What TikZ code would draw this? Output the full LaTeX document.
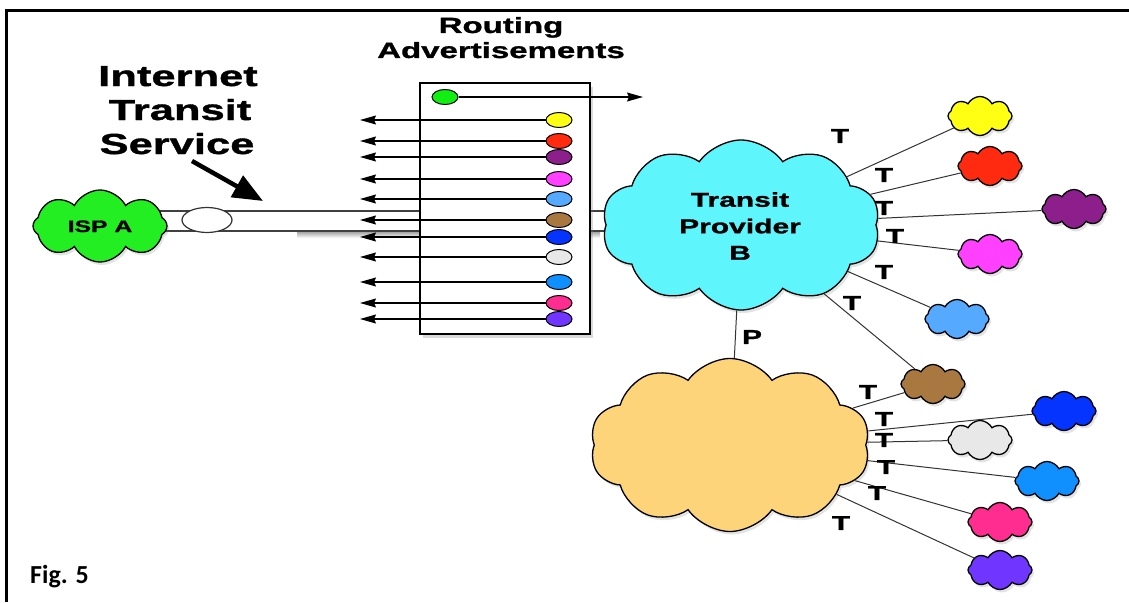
\documentclass[tikz,border=0pt]{standalone}
\usepackage{fontspec}
\setmainfont{Liberation Sans}
\newfontfamily\wf{Liberation Sans}[FakeStretch=1.5,FakeBold=1.2]
\newfontfamily\figf{Carlito}
\usetikzlibrary{shapes.symbols,shapes.geometric,arrows.meta,shadows}
\definecolor{ispgreen}{HTML}{22EE22}
\definecolor{dotgreen}{HTML}{11EE11}
\definecolor{cyanc}{HTML}{5EF5FD}
\definecolor{beigec}{HTML}{FDD479}
\definecolor{yellowc}{HTML}{FFFF14}
\definecolor{redc}{HTML}{FF2A10}
\definecolor{purplec}{HTML}{8C1F8C}
\definecolor{magentac}{HTML}{FF40FF}
\definecolor{lbluec}{HTML}{55AAFF}
\definecolor{brownc}{HTML}{A87840}
\definecolor{bluec}{HTML}{0533FF}
\definecolor{grayc}{HTML}{E8E8E8}
\definecolor{azurec}{HTML}{1090FF}
\definecolor{pinkc}{HTML}{FF2D90}
\definecolor{violetc}{HTML}{7036FF}
\begin{document}
\begin{tikzpicture}[x=1pt,y=-1pt,
  cl/.style={cloud, cloud puffs=8, cloud puff arc=125, cloud ignores aspect, draw=black, line width=1.3pt, inner sep=0pt, minimum width=64pt, minimum height=39pt, drop shadow={opacity=0.22, shadow xshift=2pt, shadow yshift=-3pt}},
  bigcl/.style={cl, cloud puffs=10, cloud puff arc=110},
  dot/.style={ellipse, draw=black, line width=1pt, inner sep=0pt, minimum width=26pt, minimum height=15pt},
  adv/.style={line width=1.1pt, -{Stealth[length=16pt,width=9pt,inset=2pt]}},
  conn/.style={line width=1pt, draw=black!80},
  tl/.style={font=\wf\bfseries\fontsize{20}{20}\selectfont, inner sep=0pt},
  title/.style={font=\wf\bfseries\fontsize{29}{29}\selectfont, inner sep=0pt, anchor=base},
  rtitle/.style={font=\wf\bfseries\fontsize{22}{22}\selectfont, inner sep=0pt, anchor=base},
  ctext/.style={font=\wf\bfseries\fontsize{20}{26.5}\selectfont, inner sep=0pt, align=center}]
\useasboundingbox (0,0) rectangle (1129,602);
% frame
\draw[line width=3pt] (6.5,602) -- (6.5,10.5) -- (1129,10.5);
% tube
\shade[top color=black!40, bottom color=white] (297,231) rectangle (600,238);
\draw[fill=white, draw=black!75, line width=1.2pt] (150,211) rectangle (615,231);
\node[ellipse, draw=black!80, fill=white, line width=1.2pt, minimum width=50pt, minimum height=25pt, inner sep=0pt] (hop) at (207,220) {};
% routing box
\node[draw=black, fill=white, line width=1.2pt, minimum width=170pt, minimum height=251pt, inner sep=0pt, drop shadow={opacity=0.3, shadow xshift=3pt, shadow yshift=-4pt}] (box) at (505,208.5) {};
% titles
\node[title] (t1) at (178,86) {Internet};
\node[title] (t2) at (180,120) {Transit};
\node[title] (t3) at (177,154) {Service};
\node[rtitle] (r1) at (501,33) {Routing};
\node[rtitle] (r2) at (501,58) {Advertisements};
\coordinate (bigtail) at (192,161);
\coordinate (bighead) at (263,201);
\draw[line width=4.5pt, -{Triangle[length=30pt,width=24pt]}] (bigtail) -- (bighead);
% advertisement dots and arrows
\node[dot, fill=dotgreen] (dg) at (445,97) {};
\coordinate (dgend) at (643,97);
\draw[adv] (dg) -- (dgend);
\foreach \n/\c/\y in {d1/yellowc/120, d2/redc/141, d3/purplec/157, d4/magentac/179, d5/lbluec/199, d6/brownc/220, d7/bluec/237, d8/grayc/257, d9/azurec/282, d10/pinkc/303, d11/violetc/319}{
  \node[dot, fill=\c] (\n) at (559,\y) {};
  \coordinate (\n e) at (360,\y);
  \draw[adv] (\n) -- (\n e);
}
% clouds
\node[cl, fill=ispgreen, minimum width=134pt, minimum height=72pt] (isp) at (100,226) {};
\node[font=\wf\bfseries\fontsize{16.5}{16.5}\selectfont, inner sep=0pt, anchor=base] (ispt) at (100,232) {ISP A};
\node[bigcl, fill=cyanc, minimum width=278pt, minimum height=170pt] (tp) at (741,225) {};
\node[ctext] (tpt) at (740,226) {Transit\\Provider\\B};
\node[bigcl, fill=beigec, minimum width=280pt, minimum height=173pt] (bg) at (730,445) {};
\node[cl, fill=yellowc] (c1) at (980,116) {};
\node[cl, fill=redc] (c2) at (990,166) {};
\node[cl, fill=purplec] (c3) at (1074,209) {};
\node[cl, fill=magentac] (c4) at (990,254) {};
\node[cl, fill=lbluec] (c5) at (957,319) {};
\node[cl, fill=brownc] (c6) at (933,384) {};
\node[cl, fill=bluec] (c7) at (1064,411) {};
\node[cl, fill=grayc] (c8) at (980,440) {};
\node[cl, fill=azurec] (c9) at (1047,481) {};
\node[cl, fill=pinkc] (c10) at (1000,522) {};
\node[cl, fill=violetc] (c11) at (1000,570) {};
% connectors
\foreach \c in {c1,c2,c3,c4,c5,c6}{\draw[conn] (tp) -- (\c);}
\foreach \c in {c6,c7,c8,c9,c10,c11}{\draw[conn] (bg) -- (\c);}
\draw[conn] (tp) -- (bg);
% labels
\node[tl] (p) at (752,337) {P};
\node[tl] (ta) at (840,136) {T};
\node[tl] (tb) at (884,175) {T};
\node[tl] (tc) at (884,208) {T};
\node[tl] (td) at (895,236) {T};
\node[tl] (te) at (884,272) {T};
\node[tl] (tf) at (852,303) {T};
\node[tl] (tg) at (868,392) {T};
\node[tl] (th) at (884,419) {T};
\node[tl] (ti) at (884,440) {T};
\node[tl] (tj) at (886,467) {T};
\node[tl] (tk) at (877,493) {T};
\node[tl] (tm) at (841,523) {T};
\node[font=\figf\bfseries\fontsize{26}{26}\selectfont, inner sep=0pt, anchor=base west] (fig) at (30,583) {Fig. 5};
\end{tikzpicture}
\end{document}
